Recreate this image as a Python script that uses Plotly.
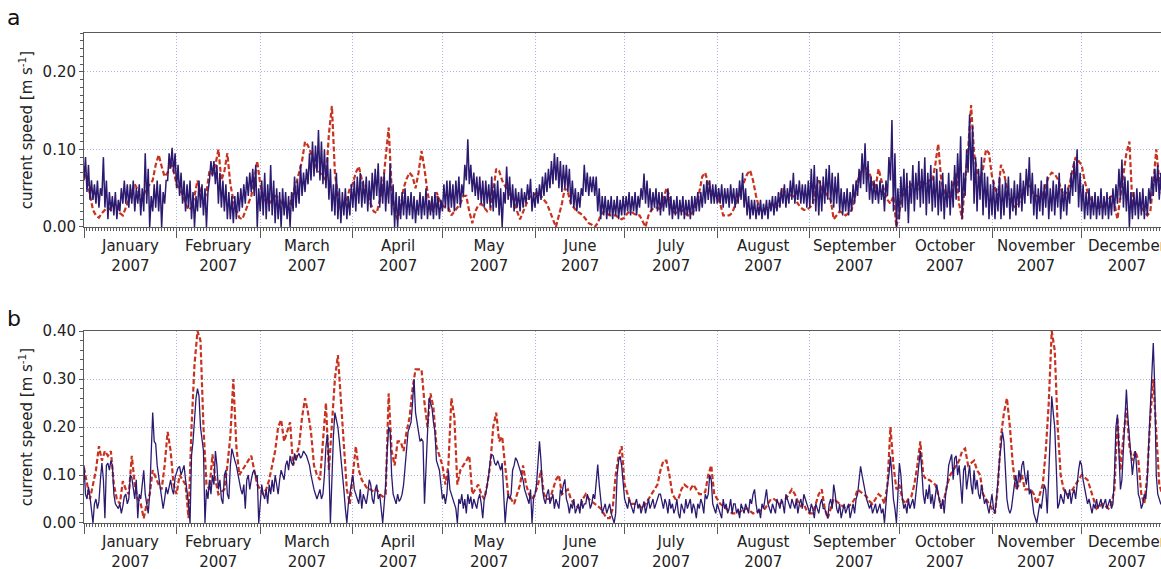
import pandas as pd
import plotly.graph_objects as go

YEAR = 2007

# Current speeds in mm/s, one row per month (January .. December).
# Panel a, observed: daily low / high of the tidal band.
a_obs_low_mm = [
    [60, 45, 35, 35, 30, 25, 40, 25, 10, 20, 15, 10, 20, 30, 30, 25, 30, 20, 30, 15, 20, 30, 0, 20, 25, 20, 0, 30, 60, 75, 70],
    [50, 40, 30, 20, 25, 10, 0, 20, 25, 15, 0, 60, 65, 55, 30, 25, 20, 10, 10, 5, 10, 20, 25, 30, 40, 45, 40, 0],
    [20, 15, 10, 20, 15, 5, 10, 0, 15, 10, 0, 20, 25, 30, 40, 45, 55, 60, 65, 70, 60, 55, 50, 35, 20, 15, 10, 5, 15, 10, 15],
    [25, 20, 30, 25, 30, 20, 25, 35, 40, 25, 30, 20, 30, 15, 0, 0, 10, 15, 10, 15, 10, 5, 15, 10, 15, 10, 15, 10, 15, 10],
    [20, 25, 20, 25, 20, 30, 25, 40, 60, 55, 45, 40, 35, 30, 25, 30, 25, 20, 25, 15, 0, 30, 35, 25, 20, 25, 20, 25, 30, 35, 20],
    [25, 30, 35, 40, 45, 50, 55, 60, 50, 45, 50, 45, 30, 25, 20, 25, 40, 45, 40, 45, 40, 20, 10, 15, 10, 15, 10, 15, 10, 15],
    [15, 20, 15, 20, 15, 25, 35, 30, 25, 20, 25, 20, 15, 20, 25, 15, 10, 15, 10, 15, 10, 15, 10, 15, 20, 20, 25, 30, 35, 30, 30],
    [30, 30, 25, 30, 25, 30, 25, 30, 35, 25, 15, 10, 15, 10, 15, 10, 15, 10, 20, 15, 20, 25, 30, 25, 30, 35, 30, 35, 30, 30, 25],
    [25, 30, 20, 15, 20, 30, 35, 30, 25, 30, 20, 15, 20, 15, 20, 30, 40, 50, 55, 45, 35, 30, 35, 30, 35, 20, 40, 60, 20, 0],
    [10, 25, 20, 5, 30, 20, 35, 25, 30, 15, 30, 20, 25, 15, 20, 10, 25, 15, 25, 35, 45, 10, 40, 70, 60, 30, 20, 35, 15, 25, 10],
    [15, 10, 20, 10, 15, 25, 10, 20, 15, 25, 20, 30, 40, 30, 15, 10, 20, 15, 25, 10, 20, 15, 25, 10, 20, 15, 30, 40, 45, 25],
    [20, 10, 15, 10, 15, 10, 15, 10, 15, 10, 15, 20, 30, 35, 25, 20, 0, 10, 15, 10, 15, 10, 15, 30, 40, 45, 35, 30],
]
a_obs_high_mm = [
    [90, 80, 60, 55, 60, 50, 90, 60, 45, 40, 45, 35, 50, 60, 55, 55, 60, 50, 55, 50, 95, 75, 40, 55, 60, 55, 45, 60, 95, 102, 95],
    [80, 70, 60, 55, 60, 45, 40, 60, 55, 50, 45, 85, 85, 80, 70, 60, 55, 45, 40, 40, 45, 50, 55, 65, 70, 75, 80, 50],
    [60, 70, 55, 80, 60, 50, 45, 50, 45, 40, 45, 65, 60, 80, 70, 75, 95, 110, 105, 125, 110, 100, 90, 75, 55, 70, 50, 45, 50, 40, 55],
    [60, 65, 70, 60, 65, 60, 70, 75, 82, 65, 70, 60, 82, 55, 45, 40, 45, 50, 40, 45, 40, 35, 45, 40, 50, 35, 40, 45, 40, 35],
    [55, 60, 60, 55, 60, 65, 55, 80, 113, 80, 70, 65, 65, 60, 60, 55, 65, 55, 60, 50, 45, 78, 65, 55, 50, 45, 50, 45, 55, 62, 45],
    [50, 55, 65, 70, 75, 85, 95, 90, 85, 80, 80, 75, 60, 50, 45, 50, 80, 70, 65, 65, 65, 50, 40, 40, 35, 40, 35, 40, 35, 40],
    [40, 45, 40, 45, 40, 50, 69, 60, 50, 45, 50, 45, 45, 40, 50, 40, 35, 40, 35, 40, 35, 35, 40, 40, 45, 45, 55, 60, 60, 55, 55],
    [50, 55, 50, 50, 55, 50, 50, 60, 70, 50, 40, 35, 35, 30, 35, 30, 35, 35, 40, 40, 45, 50, 55, 50, 60, 70, 55, 60, 55, 55, 60],
    [75, 80, 65, 60, 65, 75, 80, 70, 65, 70, 50, 45, 50, 45, 55, 60, 75, 95, 108, 85, 65, 60, 55, 60, 55, 60, 90, 138, 95, 50],
    [65, 75, 70, 60, 80, 70, 85, 75, 90, 70, 80, 65, 75, 60, 70, 55, 70, 60, 80, 95, 117, 70, 100, 145, 130, 90, 75, 90, 70, 65, 55],
    [60, 50, 65, 55, 60, 65, 50, 60, 55, 70, 60, 75, 90, 70, 55, 50, 60, 55, 65, 50, 60, 55, 70, 50, 55, 50, 70, 85, 100, 70],
    [55, 45, 50, 40, 45, 40, 50, 40, 45, 40, 50, 55, 75, 87, 65, 60, 45, 45, 50, 45, 50, 40, 50, 65, 75, 80, 70, 65],
]
# Panel a, model: daily values.
a_model_mm = [
    [78, 62, 42, 22, 15, 12, 18, 22, 25, 22, 28, 30, 18, 15, 25, 35, 45, 55, 48, 35, 42, 50, 55, 60, 80, 93, 78, 65, 70, 84, 72],
    [55, 48, 42, 30, 22, 25, 40, 60, 45, 30, 45, 72, 68, 80, 100, 60, 72, 95, 55, 35, 22, 12, 10, 20, 30, 40, 60, 85],
    [55, 40, 32, 30, 35, 40, 38, 32, 28, 25, 30, 45, 55, 70, 85, 110, 105, 95, 85, 75, 70, 65, 60, 120, 156, 70, 40, 22, 25, 35, 50],
    [56, 70, 78, 60, 45, 40, 30, 20, 18, 35, 50, 90, 128, 50, 20, 10, 25, 50, 62, 70, 65, 50, 70, 98, 75, 45, 25, 20, 45, 35],
    [28, 25, 25, 15, 20, 25, 30, 40, 40, 20, 5, 20, 28, 30, 25, 20, 22, 45, 75, 72, 60, 52, 45, 38, 35, 20, 10, 20, 30, 38, 40],
    [42, 45, 40, 35, 30, 20, 10, 0, 15, 30, 50, 45, 30, 25, 20, 18, 15, 10, 5, 3, 0, 5, 15, 20, 18, 15, 15, 15, 12, 10],
    [12, 18, 20, 18, 15, 15, 8, 0, 15, 22, 25, 25, 22, 35, 50, 40, 20, 18, 20, 22, 20, 15, 15, 20, 30, 45, 65, 70, 55, 45, 40],
    [40, 30, 15, 15, 15, 18, 28, 40, 50, 60, 68, 73, 60, 40, 25, 20, 22, 28, 30, 28, 25, 40, 50, 42, 40, 42, 38, 30, 25, 22, 22],
    [25, 30, 50, 60, 48, 45, 40, 35, 10, 15, 20, 18, 15, 18, 22, 35, 60, 70, 80, 75, 70, 55, 50, 75, 60, 45, 35, 30, 40, 0],
    [20, 40, 45, 55, 55, 50, 48, 60, 58, 55, 60, 58, 80, 107, 60, 45, 40, 38, 55, 70, 30, 10, 60, 100, 157, 95, 70, 60, 75, 100, 95],
    [65, 50, 40, 80, 70, 50, 35, 28, 25, 30, 45, 52, 55, 50, 42, 40, 38, 42, 55, 65, 70, 68, 62, 50, 40, 45, 55, 75, 90, 85],
    [80, 60, 45, 35, 28, 25, 25, 28, 30, 35, 40, 30, 10, 40, 70, 95, 110, 30, 30, 30, 25, 20, 15, 20, 55, 100, 60, 40],
]
# Panel b, observed: two values per day (00:00 and 12:00).
b_obs_mm = [
    [120, 60, 50, 75, 55, 20, 0, 40, 50, 30, 45, 90, 125, 90, 10, 120, 125, 110, 130, 120, 60, 40, 35, 30, 40, 20, 35, 55, 60, 40, 50, 100,
     95, 70, 50, 90, 10, 60, 50, 80, 110, 60, 40, 20, 60, 150, 230, 170, 165, 120, 100, 70, 60, 30, 50, 75, 60, 80, 90, 70, 60, 95],
    [105, 115, 118, 100, 110, 120, 90, 70, 40, 0, 140, 170, 220, 260, 280, 265, 200, 180, 150, 0, 70, 50, 90, 60, 100, 80, 150, 120,
     70, 90, 50, 40, 100, 110, 60, 50, 120, 155, 140, 130, 120, 100, 90, 70, 60, 80, 30, 90, 100, 70, 90, 105, 110, 95, 100, 0],
    [40, 80, 60, 50, 70, 40, 80, 60, 90, 65, 100, 80, 60, 90, 110, 100, 90, 120, 130, 110, 140, 125, 120, 145, 130, 140, 145, 135,
     140, 150, 145, 140, 130, 120, 100, 80, 70, 60, 50, 60, 70, 50, 60, 100, 160, 185, 120, 0, 100, 180, 230, 215, 200, 170, 140, 110,
     70, 30, 0, 40, 60, 90],
    [100, 70, 60, 50, 40, 70, 30, 60, 50, 40, 60, 90, 80, 50, 40, 70, 80, 50, 60, 30, 0, 40, 80, 150, 200, 190, 100, 60, 50, 40, 60, 45,
     50, 60, 80, 120, 160, 190, 200, 210, 250, 300, 230, 210, 190, 170, 175, 170, 40, 120, 200, 260, 250, 240, 210, 190, 130, 120, 110, 80],
    [50, 60, 40, 60, 110, 70, 60, 50, 40, 30, 0, 50, 40, 60, 30, 50, 20, 60, 40, 55, 30, 50, 40, 30, 50, 60, 40, 10, 50, 60, 80, 100,
     130, 143, 140, 125, 120, 130, 120, 110, 125, 60, 0, 40, 60, 50, 60, 110, 120, 136, 130, 120, 110, 100, 90, 70, 60, 50, 40, 70, 0, 50],
    [60, 80, 120, 170, 130, 70, 50, 40, 60, 70, 40, 50, 60, 30, 50, 40, 30, 70, 60, 80, 91, 50, 40, 20, 40, 30, 50, 20, 30, 40, 20, 50,
     30, 40, 40, 60, 50, 30, 40, 60, 50, 80, 122, 80, 40, 20, 30, 40, 20, 30, 40, 20, 10, 0, 20, 100, 130, 139, 120, 80],
    [50, 40, 30, 50, 40, 30, 20, 40, 50, 30, 40, 20, 30, 45, 20, 40, 50, 30, 40, 50, 30, 40, 50, 60, 60, 40, 30, 50, 40, 20, 50, 30,
     40, 20, 30, 50, 20, 10, 40, 30, 20, 50, 30, 40, 50, 20, 40, 30, 10, 40, 30, 50, 40, 20, 60, 50, 60, 100, 90, 40, 30, 20],
    [40, 30, 20, 10, 50, 30, 40, 20, 30, 50, 20, 40, 40, 20, 30, 10, 40, 30, 20, 40, 30, 20, 50, 40, 60, 70, 40, 20, 30, 10, 40, 30,
     50, 70, 40, 30, 20, 40, 30, 20, 50, 40, 30, 50, 40, 20, 60, 50, 40, 30, 50, 40, 30, 50, 20, 40, 50, 30, 60, 50, 40, 30],
    [20, 40, 30, 10, 40, 30, 20, 40, 50, 30, 30, 20, 10, 40, 50, 30, 80, 60, 30, 20, 40, 10, 30, 40, 20, 30, 40, 10, 30, 40, 20, 50,
     60, 90, 118, 100, 80, 60, 50, 40, 30, 40, 20, 30, 40, 20, 30, 40, 20, 30, 0, 40, 80, 100, 139, 100, 50, 30, 0, 60],
    [125, 100, 50, 30, 40, 20, 50, 30, 40, 50, 30, 60, 90, 120, 150, 110, 60, 40, 70, 50, 80, 40, 60, 30, 50, 80, 60, 40, 30, 50, 20, 60,
     80, 120, 130, 143, 90, 135, 140, 100, 120, 80, 40, 110, 120, 70, 100, 120, 80, 60, 110, 70, 90, 60, 50, 80, 60, 40, 50, 30, 20, 40],
    [60, 30, 20, 50, 100, 130, 160, 190, 170, 120, 50, 30, 20, 30, 60, 80, 100, 70, 110, 90, 120, 129, 100, 80, 110, 60, 70, 40, 20, 10,
     0, 20, 40, 30, 60, 80, 70, 20, 100, 200, 264, 230, 200, 120, 30, 40, 60, 50, 40, 70, 60, 50, 70, 40, 60, 70, 50, 90, 110, 130],
    [120, 90, 70, 60, 40, 50, 30, 20, 40, 30, 50, 30, 40, 50, 30, 40, 50, 30, 40, 50, 30, 40, 100, 200, 226, 160, 70, 90, 150, 230,
     278, 220, 180, 130, 100, 130, 150, 110, 60, 50, 30, 40, 60, 50, 90, 170, 250, 300, 375, 280, 100, 60, 50, 40, 40, 50],
]
# Panel b, model: daily values.
b_model_mm = [
    [115, 80, 50, 80, 110, 160, 130, 150, 140, 150, 80, 50, 40, 87, 70, 60, 140, 80, 50, 40, 10, 40, 60, 110, 95, 80, 70, 120, 190, 150, 80],
    [60, 100, 90, 80, 10, 200, 330, 400, 380, 200, 80, 70, 143, 90, 60, 65, 70, 120, 180, 300, 160, 100, 110, 120, 130, 140, 110, 80],
    [70, 60, 70, 90, 120, 150, 200, 215, 170, 190, 210, 120, 140, 160, 220, 260, 230, 190, 120, 100, 90, 180, 250, 110, 200, 300, 350, 250, 150, 70, 40],
    [100, 160, 110, 90, 80, 70, 70, 65, 70, 60, 55, 60, 270, 150, 120, 170, 170, 150, 190, 220, 280, 320, 320, 320, 250, 200, 270, 240, 160, 140],
    [120, 80, 120, 260, 220, 80, 110, 120, 130, 140, 60, 70, 80, 60, 50, 80, 120, 200, 230, 170, 180, 120, 60, 50, 40, 60, 80, 120, 80, 60, 50],
    [60, 80, 110, 60, 50, 50, 70, 90, 100, 60, 65, 70, 50, 40, 35, 30, 50, 60, 50, 45, 40, 35, 30, 20, 10, 10, 30, 100, 140, 160],
    [80, 60, 40, 40, 40, 35, 30, 40, 50, 60, 70, 80, 110, 130, 130, 100, 60, 50, 50, 70, 80, 75, 70, 80, 70, 60, 60, 65, 100, 120, 60],
    [50, 40, 35, 30, 25, 20, 20, 20, 25, 30, 30, 25, 20, 22, 25, 28, 30, 40, 50, 50, 45, 40, 45, 50, 60, 70, 60, 45, 35, 40, 25],
    [20, 20, 40, 60, 70, 30, 10, 30, 50, 45, 40, 35, 30, 35, 40, 50, 70, 65, 60, 55, 45, 40, 50, 60, 55, 40, 80, 200, 120, 70],
    [80, 50, 40, 50, 55, 80, 120, 170, 100, 90, 90, 85, 80, 60, 30, 50, 80, 100, 110, 120, 130, 150, 155, 120, 125, 130, 110, 100, 60, 50, 40],
    [30, 20, 80, 180, 230, 260, 200, 120, 70, 80, 100, 70, 70, 70, 60, 40, 60, 80, 150, 250, 400, 360, 200, 100, 70, 60, 60, 70, 80, 90],
    [100, 95, 90, 70, 50, 30, 35, 40, 35, 30, 40, 70, 220, 110, 180, 240, 160, 130, 150, 130, 60, 40, 100, 220, 300, 200, 80, 60],
]

MONTH_NAMES = ["January", "February", "March", "April", "May", "June", "July",
               "August", "September", "October", "November", "December"]

A_YMAX, B_YMAX = 0.25, 0.40
X_START, X_END = "2007-01-01", "2007-12-27 14:00"

BLUE = "#2c1a70"
RED = "#c8321f"
AXIS = "#5a5a5a"
GRID = "#aab3e0"
FONT = "DejaVu Sans"

# vertical placement of the panels (paper fractions)
A_DOMAIN = [0.6041, 1.0]
B_DOMAIN = [0.0, 0.3918]


def monthly_series(rows, per_day):
    """Turn month rows into (timestamps, m/s values)."""
    xs, ys = [], []
    step = pd.Timedelta(hours=24 / per_day)
    for m, vals in enumerate(rows, start=1):
        start = pd.Timestamp(year=YEAR, month=m, day=1)
        for i, v in enumerate(vals):
            xs.append(start + i * step)
            ys.append(v / 1000.0)
    return xs, ys


a_obs_rows = [[v for pair in zip(lo, hi) for v in pair]
              for lo, hi in zip(a_obs_low_mm, a_obs_high_mm)]

ax_obs, ay_obs = monthly_series(a_obs_rows, 2)
ax_mod, ay_mod = monthly_series(a_model_mm, 1)
bx_obs, by_obs = monthly_series(b_obs_mm, 2)
bx_mod, by_mod = monthly_series(b_model_mm, 1)

# month labels sit in the middle of each month
month_starts = [pd.Timestamp(year=YEAR, month=m, day=1) for m in range(1, 13)]
month_ends = month_starts[1:] + [pd.Timestamp(year=YEAR + 1, month=1, day=1)]
label_pos = [s + (e - s) / 2 for s, e in zip(month_starts, month_ends)]

fig = go.Figure()
model_line = dict(color=RED, width=2.2, dash="5px,2.5px")

fig.add_trace(go.Scatter(x=ax_mod, y=ay_mod, mode="lines", line=model_line,
                         xaxis="x", yaxis="y", showlegend=False))
fig.add_trace(go.Scatter(x=ax_obs, y=ay_obs, mode="lines",
                         line=dict(color=BLUE, width=1.5),
                         xaxis="x", yaxis="y", showlegend=False))
fig.add_trace(go.Scatter(x=bx_mod, y=by_mod, mode="lines", line=model_line,
                         xaxis="x2", yaxis="y2", showlegend=False))
fig.add_trace(go.Scatter(x=bx_obs, y=by_obs, mode="lines",
                         line=dict(color=BLUE, width=1.3),
                         xaxis="x2", yaxis="y2", showlegend=False))

tick_font = dict(family=FONT, size=15, color="#222")


def x_axis(anchor):
    # month-boundary ticks, daily minor ticks and dotted month grid
    return dict(
        type="date", anchor=anchor, range=[X_START, X_END], automargin=False,
        tick0="2007-01-01", dtick="M1", showticklabels=False,
        ticks="outside", ticklen=10, tickwidth=1, tickcolor=AXIS,
        showline=True, linecolor=AXIS, linewidth=1, mirror=True,
        showgrid=True, gridcolor=GRID, griddash="1px,2px", gridwidth=1,
        zeroline=False,
        minor=dict(dtick=86400000, tick0="2007-01-01", ticks="outside",
                   ticklen=3, tickcolor=AXIS, showgrid=False),
    )


def y_axis(anchor, ymax, minor_step, domain):
    return dict(
        anchor=anchor, domain=domain, range=[0, ymax], automargin=False,
        dtick=0.1, tick0=0, tickformat=".2f", tickfont=tick_font,
        ticks="outside", ticklen=4, tickcolor=AXIS,
        showline=True, linecolor=AXIS, linewidth=1, mirror=False,
        showgrid=True, gridcolor=GRID, griddash="1px,2px", gridwidth=1,
        zeroline=False,
        minor=dict(dtick=minor_step, tick0=0, ticks="outside", ticklen=3,
                   tickcolor=AXIS, showgrid=False),
        title=dict(text="current speed [m s<sup>-1</sup>]",
                   font=dict(family=FONT, size=15, color="#222"), standoff=6),
    )


def month_labels(xref, y_top):
    return [
        dict(text=f"{name}<br>{YEAR}", x=pos, xref=xref, y=y_top, yref="paper",
             showarrow=False, xanchor="center", yanchor="top", align="center",
             borderpad=0, font=tick_font)
        for name, pos in zip(MONTH_NAMES, label_pos)
    ]


panel_tags = [
    dict(text="a", x=-0.065, y=1.031, xref="paper", yref="paper",
         showarrow=False, font=dict(family=FONT, size=22, color="#111"),
         xanchor="center", yanchor="middle"),
    dict(text="b", x=-0.065, y=0.418, xref="paper", yref="paper",
         showarrow=False, font=dict(family=FONT, size=22, color="#111"),
         xanchor="center", yanchor="middle"),
]

fig.update_layout(
    width=1161, height=569,
    margin=dict(l=84, r=0, t=33, b=46, autoexpand=False),
    paper_bgcolor="white", plot_bgcolor="white",
    font=dict(family=FONT, color="#222"),
    xaxis=x_axis("y"),
    yaxis=y_axis("x", A_YMAX, 0.01, A_DOMAIN),
    xaxis2=x_axis("y2"),
    yaxis2=y_axis("x2", B_YMAX, 0.02, B_DOMAIN),
    annotations=month_labels("x", A_DOMAIN[0] - 0.018)
    + month_labels("x2", B_DOMAIN[0] - 0.018)
    + panel_tags,
)

fig.write_html("out.html", config={"displayModeBar": False})
